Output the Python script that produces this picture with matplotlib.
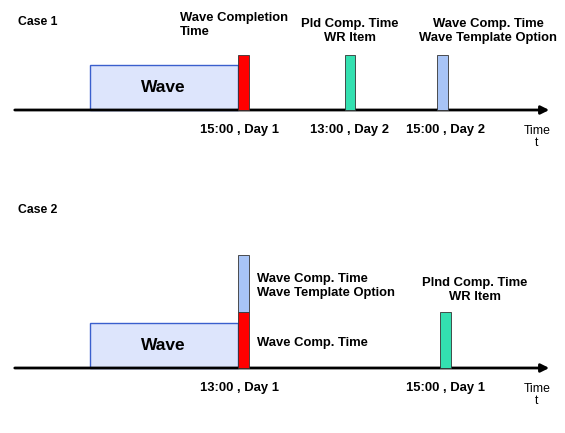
import matplotlib
matplotlib.use("Agg")
import matplotlib.pyplot as plt
from matplotlib.patches import Rectangle

plt.rcParams['font.family'] = ['Liberation Sans', 'DejaVu Sans']

case_titles = ["Case 1", "Case 2"]
axis_y = [110, 368]
# bars: (x_left, width, y_top, y_bottom, color)
bars = [
    (238, 11, 55, 110, "#ff0000"),
    (345, 10, 55, 110, "#33e0b0"),
    (437, 11, 55, 110, "#a8c4f6"),
    (238, 11, 312, 368, "#ff0000"),
    (238, 11, 255, 312, "#a8c4f6"),
    (440, 11, 312, 368, "#33e0b0"),
]
tick_labels = [("15:00 , Day 1", 240, 130), ("13:00 , Day 2", 350, 130), ("15:00 , Day 2", 446, 130),
               ("13:00 , Day 1", 240, 388), ("15:00 , Day 1", 445, 388)]

fig = plt.figure(figsize=(5.65, 4.33), dpi=100)
ax = fig.add_axes([0, 0, 1, 1])
ax.set_xlim(0, 565); ax.set_ylim(433, 0); ax.axis('off')
fs = 9.4

for t, y in zip(case_titles, [22, 210]):
    ax.text(18, y, t, fontsize=fs - 0.6, fontweight='bold', va='center')
for y in axis_y:
    ax.annotate("", xy=(552, y), xytext=(12, y),
                arrowprops=dict(arrowstyle="-|>", lw=2, color='black', mutation_scale=12))
    ax.add_patch(Rectangle((90, y - 45), 148, 45, facecolor="#dde5fc", edgecolor="#3a5fcd", lw=1))
    ax.text(163, y - 22, "Wave", fontsize=12.5, fontweight='bold', ha='center', va='center')
    ax.text(537, y + 27, "Time\nt", fontsize=fs - 0.6, ha='center', va='center', linespacing=1.1)
for x, w, yt, yb, c in bars:
    ax.add_patch(Rectangle((x, yt), w, yb - yt, facecolor=c, edgecolor="#333333", lw=0.6, zorder=3))
for s, x, y in tick_labels:
    ax.text(x, y, s, fontsize=fs, fontweight='bold', ha='center', va='center')

ax.text(180, 25, "Wave Completion\nTime", fontsize=fs, fontweight='bold', va='center', linespacing=1.2)
ax.text(350, 31, "Pld Comp. Time\nWR Item", fontsize=fs, fontweight='bold', ha='center', va='center', linespacing=1.2)
ax.text(488, 31, "Wave Comp. Time\nWave Template Option", fontsize=fs, fontweight='bold', ha='center', va='center', linespacing=1.2)
ax.text(257, 286, "Wave Comp. Time\nWave Template Option", fontsize=fs, fontweight='bold', va='center', linespacing=1.2)
ax.text(257, 343, "Wave Comp. Time", fontsize=fs, fontweight='bold', va='center')
ax.text(475, 290, "Plnd Comp. Time\nWR Item", fontsize=fs, fontweight='bold', ha='center', va='center', linespacing=1.2)

fig.savefig("out.png", dpi=100)
